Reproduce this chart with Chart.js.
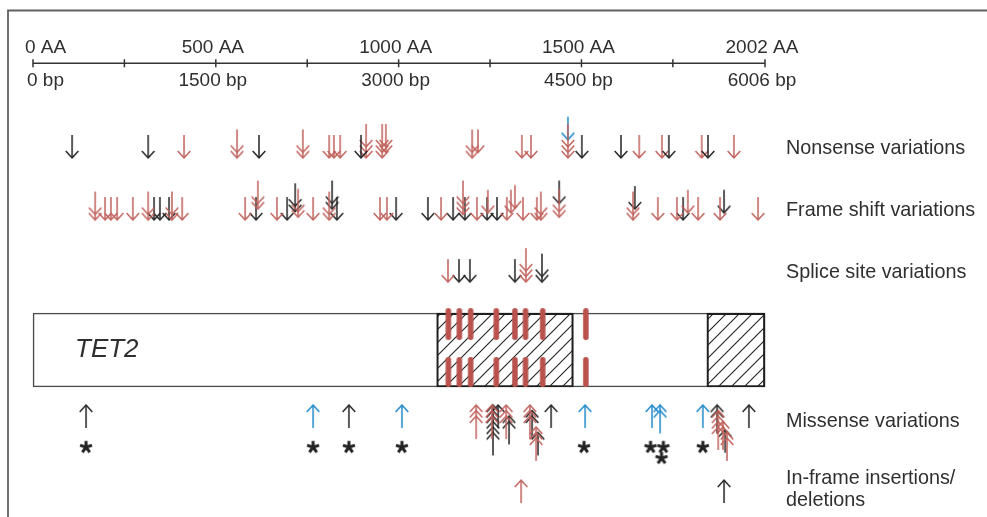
<!DOCTYPE html>
<html><head><meta charset="utf-8">
<script src="https://cdn.jsdelivr.net/npm/chart.js@4.4.0/dist/chart.umd.min.js"></script>
<style>html,body{margin:0;padding:0;background:#fff;}canvas{display:block;}</style>
</head><body>
<canvas id="c" width="987" height="517"></canvas>
<script>
// ---------------- data ----------------
const proteinLengthAA = 2002;
const aaTicks = [0, 250, 500, 750, 1000, 1250, 1500, 1750, 2002];
const aaTickLabels = ['0 AA', '', '500 AA', '', '1000 AA', '', '1500 AA', '', '2002 AA'];
const bpTickLabels = ['0 bp', '', '1500 bp', '', '3000 bp', '', '4500 bp', '', '6006 bp'];
const rowLabels = ['Nonsense variations', 'Frame shift variations', 'Splice site variations',
                   'Missense variations', ['In-frame insertions/', 'deletions']];
const geneName = 'TET2';
const domainsAA = [[1104, 1478], [1843, 2002]];
const hotspotAA = [1136, 1166, 1197, 1267, 1318, 1347, 1394, 1512];

// each variation: [amino-acid position, number of cases (stacked heads), stack offset]
const nonsenseBlack = [[107,1],[315,1],[618,1],[897,1],[1501,1],[1608,1],[1739,1],[1846,1]];
const nonsenseRed = [[413,1],[558,2],[738,2],[810,1],[823,1],[840,1],[911,3],[955,3],[965,2,1],
  [1201,2],[1217,1,1],[1337,1],[1362,1],[1463,3],[1658,1],[1720,1],[1829,1],[1917,1]];
const nonsenseBlue = [[1463,1,3.3]];

const frameshiftRed = [[170,2],[197,1],[213,1],[230,1],[273,1],[315,2],[380,2],[408,1],[580,1],
  [615,2,2],[667,1],[725,2,0.5],[766,1],[810,2],[949,1],[968,1],[1116,1],[1176,3,1],[1214,1],
  [1244,1,1.3],[1296,1],[1307,1,1.3],[1318,1,2.2],[1340,1],[1378,1],[1389,2],[1439,2,0.5],
  [1641,2],[1709,1],[1761,1],[1791,1,1.3],[1819,1],[1879,1],[1983,1]];
const frameshiftBlack = [[331,1],[347,1],[372,1],[610,1],[695,1],[717,2,1.5],[818,2,2],[831,1],
  [993,1],[1080,1],[1149,1],[1181,1],[1242,1],[1269,1],[1439,1,3],[1646,1,2],[1778,1],[1890,1,1.3]];

const spliceRed = [[1135,1],[1348,3]];
const spliceBlack = [[1165,1],[1195,1],[1318,1],[1392,2]];

const missenseBlack = [[145,1],[864,1],[1258,6],[1272,1],[1302,2,2],[1365,2,1],[1381,1,5],
  [1417,1],[1871,2],[1893,1,4.5],[1958,1]];
const missenseRed = [[1212,3],[1255,3],[1294,3],[1359,3],[1376,3,4],[1874,4,1],[1887,2,3],[1898,2,5]];
const missenseBlue = [[766,1],[1009,1],[1510,1],[1693,1],[1715,2],[1832,1]];
// asterisks: [position, level]
const missenseAsterisks = [[145,0],[766,0],[864,0],[1009,0],[1507,0],[1689,0],[1724,0],[1719,1],[1832,0]];

const inframeRed = [[1335,1]];
const inframeBlack = [[1890,1]];

// ---------------- layout (y positions in axis units) ----------------
const lane = { ruler: -0.53, nonsense: 1, frameshift: 2, splice: 3, box: 4.095,
  hotTop: 3.676, hotBottom: 4.449, missense: 4.98, asterisk: 5.66, inframe: 6.19 };
const rowLabelY = [0.85, 1.85, 2.85, 5.24, 6.345];

const COL = { black: '#232323', red: '#c0615b', blue: '#1d87c9', bar: '#b9524d', text: '#2f2f2f' };
const STEP = 5.5, SHAFT = 23, HW = 6.3, HH = 7;

const cache = {};
function arrowImg(dir, n, lift, color) {
  const key = [dir, n, lift, color].join('|');
  if (cache[key]) return cache[key];
  const L = SHAFT + (n - 1) * STEP;
  const off = lift * STEP;
  const cv = document.createElement('canvas');
  cv.width = 18;
  cv.height = Math.ceil(2 * (L + off) + 6);
  const g = cv.getContext('2d');
  const cx = cv.width / 2, cy = cv.height / 2;
  const tip = cy - dir * off;           // dir=1 : pointing down, stack goes up
  g.strokeStyle = color; g.lineWidth = 1.5; g.lineJoin = 'miter';
  g.beginPath(); g.moveTo(cx, tip); g.lineTo(cx, tip - dir * L); g.stroke();
  for (let k = 0; k < n; k++) {
    const ty = tip - dir * k * STEP;
    g.beginPath(); g.moveTo(cx - HW, ty - dir * HH); g.lineTo(cx, ty); g.lineTo(cx + HW, ty - dir * HH); g.stroke();
  }
  cache[key] = cv; return cv;
}
function asteriskImg(level) {
  const cv = document.createElement('canvas');
  cv.width = 18; cv.height = 18 + level * 22;
  const g = cv.getContext('2d');
  const cx = 9, cy = cv.height / 2 + level * 11;
  g.strokeStyle = COL.black; g.lineWidth = 3;
  g.beginPath();
  for (let i = 0; i < 5; i++) {
    const a = (-90 + i * 72) * Math.PI / 180;
    g.moveTo(cx, cy); g.lineTo(cx + 6.3 * Math.cos(a), cy + 6.3 * Math.sin(a));
  }
  g.stroke();
  return cv;
}
function hotspotImg(len) {
  const cv = document.createElement('canvas');
  cv.width = 10; cv.height = len + 4;
  const g = cv.getContext('2d');
  g.strokeStyle = COL.bar; g.lineWidth = 5.5; g.lineCap = 'round';
  g.beginPath(); g.moveTo(5, 2 + 2.75); g.lineTo(5, len + 2 - 2.75); g.stroke();
  return cv;
}
function hatchPattern() {
  const cv = document.createElement('canvas');
  cv.width = 13; cv.height = 13;
  const g = cv.getContext('2d');
  g.fillStyle = '#fff'; g.fillRect(0, 0, 13, 13);
  g.strokeStyle = '#222'; g.lineWidth = 1.1;
  g.beginPath();
  g.moveTo(-1, 14); g.lineTo(14, -1);
  g.moveTo(-14, 14); g.lineTo(1, -1);
  g.moveTo(12, 14); g.lineTo(27, -1);
  g.stroke();
  return document.getElementById('c').getContext('2d').createPattern(cv, 'repeat');
}

function arrowSet(list, row, dir, color) {
  return {
    type: 'scatter',
    data: list.map(v => ({ x: v[0], y: row })),
    pointStyle: list.map(v => arrowImg(dir, v[1], v[2] || 0, color)),
    pointRadius: 8, clip: false, order: 1
  };
}

const pattern = hatchPattern();
const datasets = [
  arrowSet(nonsenseBlack, lane.nonsense, 1, COL.black),
  arrowSet(nonsenseRed, lane.nonsense, 1, COL.red),
  arrowSet(nonsenseBlue, lane.nonsense, 1, COL.blue),
  arrowSet(frameshiftRed, lane.frameshift, 1, COL.red),
  arrowSet(frameshiftBlack, lane.frameshift, 1, COL.black),
  arrowSet(spliceRed, lane.splice, 1, COL.red),
  arrowSet(spliceBlack, lane.splice, 1, COL.black),
  arrowSet(missenseRed, lane.missense, -1, COL.red),
  arrowSet(missenseBlack, lane.missense, -1, COL.black),
  arrowSet(missenseBlue, lane.missense, -1, COL.blue),
  arrowSet(inframeRed, lane.inframe, -1, COL.red),
  arrowSet(inframeBlack, lane.inframe, -1, COL.black),
  {
    type: 'scatter',
    data: missenseAsterisks.map(v => ({ x: v[0], y: lane.asterisk })),
    pointStyle: missenseAsterisks.map(v => asteriskImg(v[1])),
    pointRadius: 8, clip: false, order: 1
  },
  {
    type: 'scatter',
    data: hotspotAA.map(a => ({ x: a, y: lane.hotTop })).concat(hotspotAA.map(a => ({ x: a, y: lane.hotBottom }))),
    pointStyle: hotspotAA.map(() => hotspotImg(32)).concat(hotspotAA.map(() => hotspotImg(30))),
    pointRadius: 8, clip: false, order: 50
  },
  {
    type: 'bar', indexAxis: 'y',
    data: [{ x: [0, proteinLengthAA], y: lane.box }].concat(domainsAA.map(d => ({ x: d, y: lane.box }))),
    backgroundColor: ['#ffffff', pattern, pattern],
    borderColor: ['#4d4d4d', '#1e1e1e', '#1e1e1e'],
    borderWidth: [1.6, 2.2, 2.2],
    borderSkipped: false, barThickness: 74, order: 100, clip: false
  }
];

const FONT = '"Liberation Sans", Arial, Helvetica, sans-serif';
const decor = {
  id: 'decor',
  beforeDatasetsDraw(chart) {
    const { ctx, scales: { x, y } } = chart;
    ctx.save();
    ctx.strokeStyle = '#606060'; ctx.lineWidth = 1.8;
    ctx.beginPath(); ctx.moveTo(8, 517); ctx.lineTo(8, 10.5); ctx.lineTo(987, 10.5); ctx.stroke();
    const ry = Math.round(y.getPixelForValue(lane.ruler)) + 0.25;
    ctx.strokeStyle = '#333'; ctx.lineWidth = 1.5;
    ctx.beginPath();
    ctx.moveTo(x.getPixelForValue(0), ry); ctx.lineTo(x.getPixelForValue(proteinLengthAA), ry);
    aaTicks.forEach(t => { const px = x.getPixelForValue(t); ctx.moveTo(px, ry - 4); ctx.lineTo(px, ry + 4); });
    ctx.stroke();
    ctx.fillStyle = COL.text; ctx.font = '19px ' + FONT; ctx.textBaseline = 'alphabetic';
    aaTicks.forEach((t, i) => {
      if (!aaTickLabels[i]) return;
      const px = x.getPixelForValue(t);
      if (i === 0) { ctx.textAlign = 'left'; ctx.fillText(aaTickLabels[i], px - 8, ry - 10); ctx.fillText(bpTickLabels[i], px - 6, ry + 23); }
      else { ctx.textAlign = 'center'; ctx.fillText(aaTickLabels[i], px - 3, ry - 10); ctx.fillText(bpTickLabels[i], px - 3, ry + 23); }
    });
    ctx.restore();
  },
  afterDatasetsDraw(chart) {
    const { ctx, chartArea, scales: { x, y } } = chart;
    ctx.save();
    ctx.fillStyle = COL.text;
    ctx.font = 'italic 26px ' + FONT; ctx.textAlign = 'left'; ctx.textBaseline = 'middle';
    ctx.fillText(geneName, chartArea.left + 42, y.getPixelForValue(lane.box));
    ctx.font = '19.8px ' + FONT;
    rowLabels.forEach((lab, i) => {
      const cy = y.getPixelForValue(rowLabelY[i]);
      const lines = Array.isArray(lab) ? lab : [lab];
      lines.forEach((ln, j) => ctx.fillText(ln, chartArea.right + 21, cy + (j - (lines.length - 1) / 2) * 22));
    });
    ctx.restore();
  }
};

new Chart(document.getElementById('c'), {
  type: 'scatter',
  data: { datasets },
  options: {
    responsive: false, animation: false, devicePixelRatio: 1, events: [],
    layout: { autoPadding: false, padding: { left: 33, right: 222, top: 1, bottom: 1 } },
    scales: {
      x: { type: 'linear', min: 0, max: proteinLengthAA, display: false, stacked: false, offset: false },
      y: { type: 'linear', min: -1.53, max: 6.77, reverse: true, display: false, offset: false }
    },
    plugins: { legend: { display: false }, tooltip: { enabled: false } }
  },
  plugins: [decor]
});
</script>
</body></html>
